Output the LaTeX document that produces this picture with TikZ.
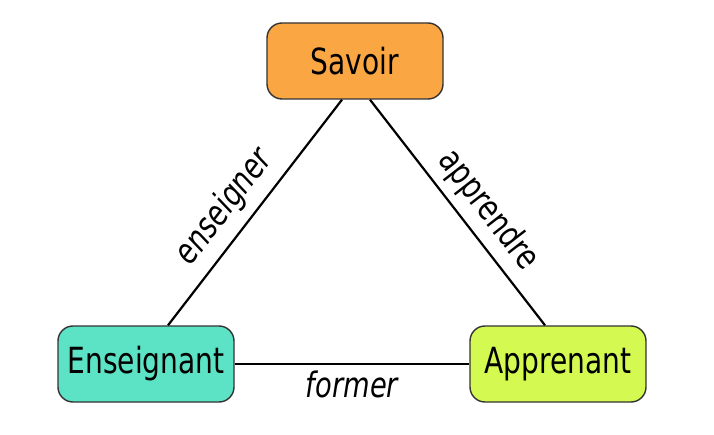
\documentclass[tikz,border=0pt]{standalone}
\usepackage{fontspec}
\setmainfont[FakeStretch=0.78]{DejaVu Sans}
\definecolor{orangesavoir}{RGB}{250,166,66}
\definecolor{vertens}{RGB}{92,226,196}
\definecolor{vertapp}{RGB}{212,250,82}
\tikzset{
  boite/.style = {draw=black!80, line width=1.4pt, rounded corners=15pt,
                  minimum width=176pt, minimum height=76pt,
                  font=\fontsize{36}{42}\selectfont},
  lien/.style = {line width=2.2pt},
  etiquette/.style = {font=\fontsize{35}{42}\selectfont}
}
\begin{document}
\begin{tikzpicture}[x=1pt, y=-1pt]
  \useasboundingbox (0,0) rectangle (714,435);

  % Les boites
  \node[boite, fill=orangesavoir] (savoir) at (355,61) {Savoir};
  \node[boite, fill=vertens] (ens) at (146,364) {Enseignant};
  \node[boite, fill=vertapp] (app) at (558,364) {Apprenant};

  % Les liens
  \draw[lien] ([xshift=22pt]ens.north) -- ([xshift=-13pt]savoir.south)
    node[etiquette, pos=0.45, sloped, above=6pt] {\itshape enseigner};
  \draw[lien] ([xshift=15pt]savoir.south) -- ([xshift=-13pt]app.north)
    node[etiquette, pos=0.56, sloped, above=4pt] {apprendre};
  \draw[lien] (ens.east) -- (app.west)
    node[etiquette, midway, below=2pt] {\itshape former};

\end{tikzpicture}
\end{document}
